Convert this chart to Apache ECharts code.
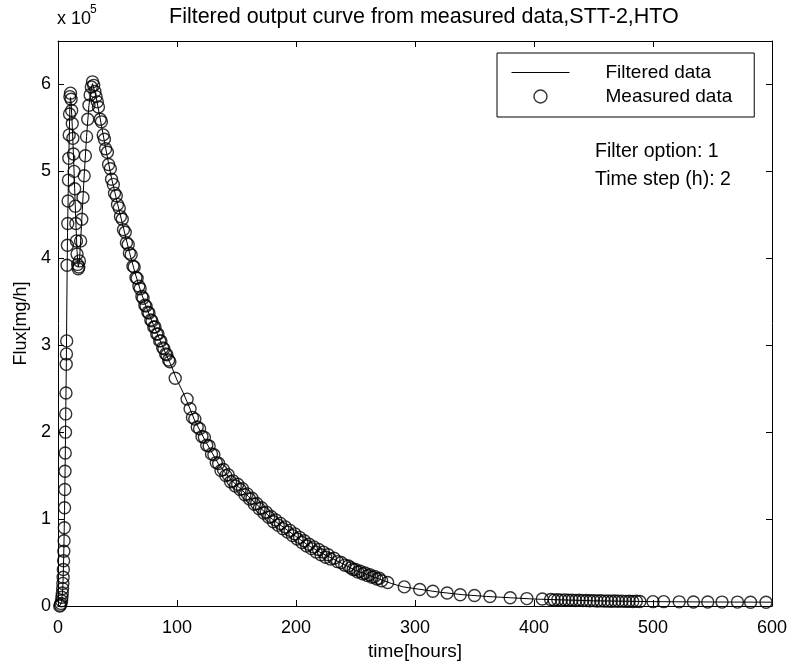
<!DOCTYPE html>
<html>
<head>
<meta charset="utf-8">
<script src="https://cdn.jsdelivr.net/npm/echarts@6/dist/echarts.min.js"></script>
<style>html,body{margin:0;padding:0;background:#fff}#c{width:790px;height:670px}</style>
</head>
<body>
<div id="c"></div>
<script>
// ---- Data (flux in units of 1e5 mg/h, time in hours) ----
const xTicks = [0, 100, 200, 300, 400, 500, 600];
const yTicks = [0, 1, 2, 3, 4, 5, 6];

// Measured data (circles)
const measT = [
  1.5, 2, 2.5, 3, 3.3, 3.6, 3.9, 4.1, 4.3, 4.5, 4.7, 4.9, 5.1, 5.3, 5.5, 5.7, 5.9, 6.1, 6.3, 6.5, 6.7, 6.9, 7.1, 7.3,
  7.6, 7.9, 8.2, 8.5, 8.8, 9.1, 9.4, 9.7, 10, 10.5, 11, 11.5, 12, 12.5, 13, 13.5, 14, 14.5, 15, 15.5, 16, 16.5, 17, 17.5,
  18, 19, 20, 21, 22, 23, 24, 25, 26, 27, 28, 29, 30, 31, 32,
  33, 34, 35.5, 36.5, 38, 39, 40, 41.5, 42.5, 44, 45, 46.5, 47.5, 49, 50, 51.5, 52.5, 54, 55, 56.5, 57.5, 59, 60, 61.5,
  63, 64, 65.5, 66.5, 68, 69, 70.5, 71.5, 73, 74, 75.5, 76.5, 78, 79, 80.5, 81.5, 83, 84, 85.5, 86.5, 88, 89, 90.5, 91.5, 93, 94,
  98.5, 108.5,
  111, 113, 115, 117, 119, 121, 123, 125, 127, 129, 131, 133, 135, 137, 139, 141, 143, 145, 147, 149, 151, 153, 155, 157, 159,
  161, 163, 165, 167, 169, 171, 173, 175, 177, 179, 181, 183, 185, 187, 189, 191, 193, 195, 197, 199, 201, 203, 205, 207, 209,
  211, 213, 215, 217, 219, 221, 223, 225, 227, 229, 232, 235, 238, 241, 244, 246, 248, 250, 252, 254, 256, 258, 260, 262, 264,
  266, 268, 270, 272, 277,
  291, 304, 315, 327, 338, 350, 363, 380, 394, 407,
  414, 417, 420, 423, 426, 429, 432, 435, 438, 441, 444, 447, 450, 453, 456, 459, 462, 465, 468, 471, 474, 477, 480, 483, 486, 489,
  500, 509, 522, 534, 546, 558, 571, 582, 595
];
const measV = [
  0.0, 0.01, 0.03, 0.06, 0.1, 0.15, 0.2, 0.26, 0.33, 0.42, 0.52, 0.63, 0.75, 0.9, 1.13, 1.34, 1.55, 1.76, 2.0, 2.21, 2.45, 2.78, 2.9, 3.05,
  3.92, 4.15, 4.4, 4.66, 4.9, 5.15, 5.42, 5.66, 5.86, 5.9, 5.83, 5.7, 5.55, 5.38, 5.2, 5.0, 4.8, 4.6, 4.4, 4.2, 4.05, 3.93, 3.88, 3.9,
  3.97, 4.2, 4.45, 4.7, 4.95, 5.18, 5.4, 5.6, 5.76, 5.88, 5.97, 6.03, 5.99, 5.92, 5.86,
  5.8, 5.74, 5.6, 5.57, 5.42, 5.37, 5.26, 5.22, 5.08, 5.03, 4.91, 4.85, 4.75, 4.72, 4.62, 4.58, 4.48, 4.45, 4.33, 4.3, 4.18, 4.16, 4.06, 4.04,
  3.91, 3.9, 3.78, 3.77, 3.68, 3.65, 3.56, 3.54, 3.46, 3.45, 3.38, 3.37, 3.29, 3.28, 3.21, 3.21, 3.13, 3.13, 3.05, 3.05, 2.97, 2.96, 2.9, 2.89, 2.83, 2.81,
  2.62, 2.38,
  2.27, 2.17, 2.15, 2.06, 2.04, 1.95, 1.94, 1.85, 1.84, 1.75, 1.74, 1.65, 1.64, 1.56, 1.57, 1.5, 1.51, 1.43, 1.44, 1.38, 1.4, 1.34, 1.35, 1.28, 1.29,
  1.23, 1.24, 1.17, 1.18, 1.12, 1.13, 1.07, 1.08, 1.02, 1.03, 0.97, 0.99, 0.93, 0.95, 0.89, 0.91, 0.85, 0.87, 0.81, 0.83, 0.77, 0.79, 0.73, 0.75, 0.69,
  0.71, 0.66, 0.68, 0.62, 0.65, 0.59, 0.62, 0.56, 0.59, 0.54, 0.55, 0.51, 0.5, 0.47, 0.46, 0.44, 0.42, 0.42, 0.39, 0.4, 0.37, 0.38, 0.35, 0.36, 0.33,
  0.34, 0.31, 0.32, 0.29, 0.27,
  0.22, 0.19, 0.17, 0.15, 0.13, 0.12, 0.11, 0.095, 0.085, 0.08,
  0.075, 0.07, 0.072, 0.068, 0.07, 0.066, 0.068, 0.064, 0.066, 0.062, 0.064, 0.06, 0.062, 0.058, 0.06, 0.056, 0.058, 0.055, 0.057, 0.054, 0.056, 0.053, 0.055, 0.052, 0.054, 0.052,
  0.05, 0.05, 0.048, 0.046, 0.046, 0.045, 0.045, 0.044, 0.044
];

// Filtered data (line)
const filtT = [0, 2, 3, 4, 4.5, 5, 5.5, 6, 6.5, 7, 7.5, 8, 9, 10, 10.5, 11, 12, 13, 14, 15, 16, 17, 18, 19, 20, 22, 24, 26, 28, 29, 30, 32, 35,
  40, 45, 50, 55, 60, 65, 70, 75, 80, 85, 90, 95, 100, 105, 110, 115, 120, 125, 130, 135, 140, 145, 150, 155, 160, 170, 180, 190, 200,
  210, 220, 230, 240, 250, 260, 270, 280, 290, 300, 320, 340, 360, 380, 400, 450, 500, 550, 600];
const filtV = [0, 0.01, 0.05, 0.2, 0.4, 0.7, 1.1, 1.6, 2.2, 2.8, 3.6, 4.3, 5.1, 5.75, 5.85, 5.8, 5.52, 5.18, 4.8, 4.42, 4.08, 3.9, 3.96, 4.2, 4.45, 4.95, 5.4, 5.76, 5.96, 6.01, 5.99, 5.86, 5.64,
  5.27, 4.92, 4.63, 4.35, 4.07, 3.82, 3.6, 3.41, 3.24, 3.08, 2.92, 2.77, 2.6, 2.46, 2.3, 2.13, 2.0, 1.87, 1.75, 1.63, 1.54, 1.46, 1.39, 1.33, 1.26, 1.13, 1.0, 0.9, 0.8,
  0.7, 0.62, 0.55, 0.48, 0.41, 0.36, 0.31, 0.26, 0.22, 0.2, 0.16, 0.13, 0.11, 0.095, 0.08, 0.06, 0.05, 0.046, 0.044];

const titleText = 'Filtered output curve from measured data,STT-2,HTO';
const xName = 'time[hours]';
const yName = 'Flux[mg/h]';
const notes = ['Filter option: 1', 'Time step (h): 2'];

// ---- Chart ----
const FONT = '"Liberation Sans", Arial, Helvetica, sans-serif';
const chart = echarts.init(document.getElementById('c'), null, {renderer: 'canvas'});

const measData = measT.map((t, i) => [t, measV[i]]);
const filtData = filtT.map((t, i) => [t, filtV[i]]);

const axCommon = {
  type: 'value',
  axisLine: {show: true, onZero: false, lineStyle: {color: '#000', width: 1}},
  axisTick: {show: true, inside: true, length: 6, lineStyle: {color: '#000'}},
  splitLine: {show: false}
};

const option = {
  animation: false,
  backgroundColor: '#fff',
  textStyle: {fontFamily: FONT, color: '#000'},
  title: {
    text: titleText,
    left: 169,
    top: 0,
    padding: [6, 0, 5, 0],
    textStyle: {fontFamily: FONT, fontSize: 21.5, fontWeight: 'normal', color: '#000'}
  },
  grid: {left: 58, right: 18, top: 41, bottom: 64, containLabel: false},
  legend: {
    orient: 'vertical',
    left: 497,
    top: 53,
    padding: [10, 22, 11, 14],
    itemWidth: 58,
    itemHeight: 13,
    itemGap: 5,
    borderColor: '#000',
    borderWidth: 1,
    backgroundColor: '#fff',
    textStyle: {fontFamily: FONT, fontSize: 19, color: '#000', padding: [0, 0, 0, 31]},
    data: [
      {name: 'Filtered data', itemStyle: {color: 'rgba(0,0,0,0)', borderColor: 'rgba(0,0,0,0)', borderWidth: 0}, lineStyle: {color: '#000', width: 1}},
      {name: 'Measured data', itemStyle: {color: 'rgba(0,0,0,0)', borderColor: '#000', borderWidth: 1.4}}
    ]
  },
  xAxis: [
    Object.assign({}, axCommon, {
      position: 'bottom', min: xTicks[0], max: xTicks[xTicks.length - 1], interval: 100,
      name: xName, nameLocation: 'middle', nameGap: 36,
      nameTextStyle: {fontFamily: FONT, fontSize: 19, color: '#000'},
      axisLabel: {show: true, margin: 13, fontFamily: FONT, fontSize: 18, color: '#000',
        formatter: v => xTicks.indexOf(v) >= 0 ? String(v) : ''}
    }),
    Object.assign({}, axCommon, {
      position: 'top', min: xTicks[0], max: xTicks[xTicks.length - 1], interval: 100,
      axisLabel: {show: false}
    })
  ],
  yAxis: [
    Object.assign({}, axCommon, {
      position: 'left', min: 0, max: 6.5, interval: 1,
      name: yName, nameLocation: 'middle', nameGap: 28,
      nameTextStyle: {fontFamily: FONT, fontSize: 18, color: '#000'},
      axisLabel: {show: true, margin: 7, fontFamily: FONT, fontSize: 18, color: '#000', showMaxLabel: false,
        formatter: v => yTicks.indexOf(v) >= 0 ? String(v) : ''}
    }),
    Object.assign({}, axCommon, {
      position: 'right', min: 0, max: 6.5, interval: 1,
      axisLabel: {show: false}
    })
  ],
  series: [
    {
      name: 'Filtered data',
      type: 'line',
      data: filtData,
      symbol: 'none',
      smooth: false,
      lineStyle: {color: '#000', width: 1},
      itemStyle: {color: '#000'},
      z: 3
    },
    {
      name: 'Measured data',
      type: 'scatter',
      data: measData,
      symbol: 'circle',
      symbolSize: 12,
      itemStyle: {color: 'rgba(0,0,0,0)', borderColor: '#000', borderWidth: 1.4},
      z: 2
    }
  ],
  graphic: [
    {type: 'text', left: 57, top: 10, style: {text: 'x 10', font: '18px ' + FONT, fill: '#000'}},
    {type: 'text', left: 90, top: 4, style: {text: '5', font: '12px ' + FONT, fill: '#000'}},
    {type: 'text', left: 595, top: 142, style: {text: notes[0], font: '19.5px ' + FONT, fill: '#000'}},
    {type: 'text', left: 595, top: 170, style: {text: notes[1], font: '19.5px ' + FONT, fill: '#000'}}
  ]
};
chart.setOption(option);
</script>
</body>
</html>
